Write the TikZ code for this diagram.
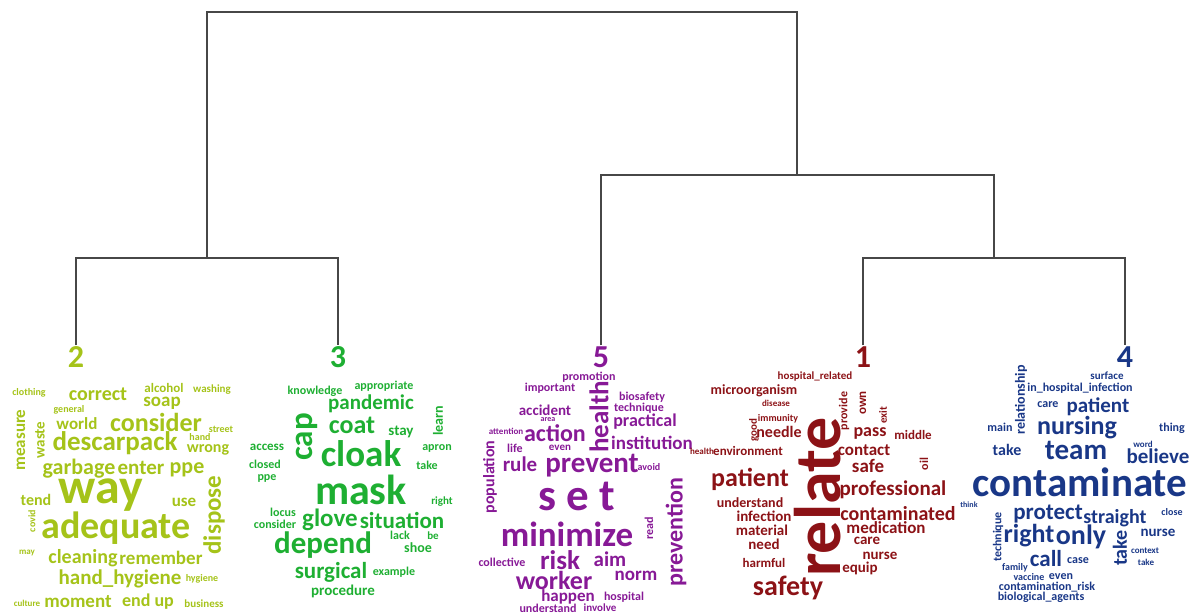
\documentclass[tikz,border=0pt]{standalone}
\usepackage{fontspec}
\setmainfont{Carlito}
\usepackage{tikz}
\definecolor{grpone}{RGB}{140,18,22}
\definecolor{grptwo}{RGB}{165,195,25}
\definecolor{grpthree}{RGB}{30,175,50}
\definecolor{grpfour}{RGB}{25,55,135}
\definecolor{grpfive}{RGB}{135,25,150}
\tikzstyle{branch}=[draw=black!72, line width=2pt]
\tikzstyle{cnum}=[inner sep=1pt, font=\fontsize{32}{32}\selectfont\bfseries]
\tikzstyle{w1}=[text=grpone, inner sep=0pt]
\tikzstyle{w2}=[text=grptwo, inner sep=0pt]
\tikzstyle{w3}=[text=grpthree, inner sep=0pt]
\tikzstyle{w4}=[text=grpfour, inner sep=0pt]
\tikzstyle{w5}=[text=grpfive, inner sep=0pt]
\tikzset{sz/.style={font=\fontsize{#1}{#1}\selectfont\bfseries}}
\begin{document}
\begin{tikzpicture}[x=1pt, y=-1pt]
      \useasboundingbox (0,0) rectangle (1192,615);
      % cluster numbers
      \node[cnum,text=grptwo] at (76,357) (c2) {2};
      \node[cnum,text=grpthree] at (338,357) (c3) {3};
      \node[cnum,text=grpfive] at (601,357) (c5) {5};
      \node[cnum,text=grpone] at (863,357) (c1) {1};
      \node[cnum,text=grpfour] at (1125,357) (c4) {4};
      % merge points
      \coordinate (m23) at (207,258);
      \coordinate (m14) at (994,258);
      \coordinate (m514) at (797,175);
      \coordinate (root) at (502,12);
      \draw[branch] (c2.north) |- (m23) -| (c3.north);
      \draw[branch] (c1.north) |- (m14) -| (c4.north);
      \draw[branch] (c5.north) |- (m514) -| (m14);
      \draw[branch] (m23) |- (root) -| (m514);
      % cluster 2
      \node[w2,sz=10] at (29,393) (clothing2) {clothing};
      \node[w2,sz=20] at (98,394) (correct2) {correct};
      \node[w2,sz=13] at (164,388) (alcohol2) {alcohol};
      \node[w2,sz=11] at (212,390) (washing2) {washing};
      \node[w2,sz=19] at (162,403) (soap2) {soap};
      \node[w2,sz=10] at (69,410) (general2) {general};
      \node[w2,sz=17] at (77,424) (world2) {world};
      \node[w2,sz=26] at (156,422) (consider2) {consider};
      \node[w2,sz=10] at (221,429) (street2) {street};
      \node[w2,sz=17,rotate=90] at (21,440) (measure2) {measure};
      \node[w2,sz=15,rotate=90] at (40,440) (waste2) {waste};
      \node[w2,sz=27] at (115,443) (descarpack2) {descarpack};
      \node[w2,sz=10] at (200,437) (hand2) {hand};
      \node[w2,sz=16] at (208,450) (wrong2) {wrong};
      \node[w2,sz=22] at (79,469) (garbage2) {garbage};
      \node[w2,sz=21] at (141,468) (enter2) {enter};
      \node[w2,sz=22] at (187,470) (ppe2) {ppe};
      \node[w2,sz=16] at (36,500) (tend2) {tend};
      \node[w2,sz=50] at (101,495) (way2) {way};
      \node[w2,sz=17] at (184,502) (use2) {use};
      \node[w2,sz=25,rotate=90] at (214,515) (dispose2) {dispose};
      \node[w2,sz=10,rotate=90] at (32,521) (covid2) {covid};
      \node[w2,sz=38] at (116,528) (adequate2) {adequate};
      \node[w2,sz=9] at (27,553) (may2) {may};
      \node[w2,sz=20] at (83,558) (cleaning2) {cleaning};
      \node[w2,sz=19] at (161,558) (remember2) {remember};
      \node[w2,sz=21] at (120,579) (handhyg2) {hand\_hygiene};
      \node[w2,sz=10] at (202,579) (hygiene2) {hygiene};
      \node[w2,sz=9] at (27,603) (culture2) {culture};
      \node[w2,sz=19] at (78,602) (moment2) {moment};
      \node[w2,sz=18] at (148,602) (endup2) {end up};
      \node[w2,sz=11] at (204,604) (business2) {business};
      % cluster 3
      \node[w3,sz=12] at (315,391) (knowledge3) {knowledge};
      \node[w3,sz=12] at (384,386) (appropriate3) {appropriate};
      \node[w3,sz=21] at (371,404) (pandemic3) {pandemic};
      \node[w3,sz=14,rotate=90] at (438,421) (learn3) {learn};
      \node[w3,sz=33,rotate=90] at (307,437) (cap3) {cap};
      \node[w3,sz=26] at (352,425) (coat3) {coat};
      \node[w3,sz=15] at (401,432) (stay3) {stay};
      \node[w3,sz=13] at (267,447) (access3) {access};
      \node[w3,sz=37] at (361,454) (cloak3) {cloak};
      \node[w3,sz=12] at (437,448) (apron3) {apron};
      \node[w3,sz=12] at (265,464) (closed3) {closed};
      \node[w3,sz=12] at (427,465) (take3) {take};
      \node[w3,sz=12] at (267,478) (ppe3) {ppe};
      \node[w3,sz=42] at (361,490) (mask3) {mask};
      \node[w3,sz=11] at (442,502) (right3) {right};
      \node[w3,sz=12] at (283,512) (locus3) {locus};
      \node[w3,sz=12] at (275,524) (consider3) {consider};
      \node[w3,sz=25] at (330,520) (glove3) {glove};
      \node[w3,sz=23] at (402,520) (situation3) {situation};
      \node[w3,sz=12] at (400,535) (lack3) {lack};
      \node[w3,sz=11] at (433,536) (be3) {be};
      \node[w3,sz=31] at (323,545) (depend3) {depend};
      \node[w3,sz=14] at (418,548) (shoe3) {shoe};
      \node[w3,sz=23] at (331,572) (surgical3) {surgical};
      \node[w3,sz=12] at (394,572) (example3) {example};
      \node[w3,sz=15] at (343,591) (procedure3) {procedure};
      % cluster 5
      \node[w5,sz=12] at (589,377) (promotion5) {promotion};
      \node[w5,sz=12] at (550,388) (important5) {important};
      \node[w5,sz=27,rotate=90] at (599,417) (health5) {health};
      \node[w5,sz=12] at (642,397) (biosafety5) {biosafety};
      \node[w5,sz=12] at (639,408) (technique5) {technique};
      \node[w5,sz=15] at (545,410) (accident5) {accident};
      \node[w5,sz=8] at (548,420) (area5) {area};
      \node[w5,sz=18] at (645,422) (practical5) {practical};
      \node[w5,sz=9] at (506,431) (attention5) {attention};
      \node[w5,sz=24] at (555,433) (action5) {action};
      \node[w5,sz=19] at (652,443) (institution5) {institution};
      \node[w5,sz=16,rotate=90] at (490,477) (population5) {population};
      \node[w5,sz=12] at (515,448) (life5) {life};
      \node[w5,sz=11] at (560,448) (even5) {even};
      \node[w5,sz=21] at (520,464) (rule5) {rule};
      \node[w5,sz=29] at (592,466) (prevent5) {prevent};
      \node[w5,sz=10] at (649,467) (avoid5) {avoid};
      \node[w5,sz=45] at (577,496) (set5) {s e t};
      \node[w5,sz=24,rotate=90] at (676,532) (prevention5) {prevention};
      \node[w5,sz=35] at (567,534) (minimize5) {minimize};
      \node[w5,sz=12,rotate=90] at (649,528) (read5) {read};
      \node[w5,sz=12] at (502,562) (collective5) {collective};
      \node[w5,sz=27] at (560,560) (risk5) {risk};
      \node[w5,sz=21] at (610,559) (aim5) {aim};
      \node[w5,sz=19] at (636,576) (norm5) {norm};
      \node[w5,sz=26] at (554,580) (worker5) {worker};
      \node[w5,sz=17] at (568,597) (happen5) {happen};
      \node[w5,sz=12] at (624,597) (hospital5) {hospital};
      \node[w5,sz=12] at (548,608) (understand5) {understand};
      \node[w5,sz=11] at (600,608) (involve5) {involve};
      % cluster 1
      \node[w1,sz=11] at (815,377) (hosprel1) {hospital\_related};
      \node[w1,sz=14] at (754,391) (microorganism1) {microorganism};
      \node[w1,sz=9] at (776,403) (disease1) {disease};
      \node[w1,sz=12,rotate=90] at (844,411) (provide1) {provide};
      \node[w1,sz=13,rotate=90] at (863,403) (own1) {own};
      \node[w1,sz=11,rotate=90] at (883,415) (exit1) {exit};
      \node[w1,sz=11,rotate=90] at (754,430) (good1) {good};
      \node[w1,sz=10] at (778,419) (immunity1) {immunity};
      \node[w1,sz=16] at (779,432) (needle1) {needle};
      \node[w1,sz=66,rotate=90] at (818,497) (relate1) {relate};
      \node[w1,sz=18] at (870,433) (pass1) {pass};
      \node[w1,sz=13] at (913,435) (middle1) {middle};
      \node[w1,sz=9] at (702,451) (health1) {health};
      \node[w1,sz=13] at (748,451) (environment1) {environment};
      \node[w1,sz=17] at (864,450) (contact1) {contact};
      \node[w1,sz=19] at (868,466) (safe1) {safe};
      \node[w1,sz=12,rotate=90] at (924,464) (oil1) {oil};
      \node[w1,sz=26] at (750,479) (patient1) {patient};
      \node[w1,sz=21] at (893,490) (professional1) {professional};
      \node[w1,sz=14] at (750,503) (understand1) {understand};
      \node[w1,sz=15] at (764,516) (infection1) {infection};
      \node[w1,sz=20] at (898,514) (contaminated1) {contaminated};
      \node[w1,sz=17] at (886,528) (medication1) {medication};
      \node[w1,sz=15] at (762,530) (material1) {material};
      \node[w1,sz=15] at (867,541) (care1) {care};
      \node[w1,sz=15] at (764,544) (need1) {need};
      \node[w1,sz=15] at (880,556) (nurse1) {nurse};
      \node[w1,sz=13] at (764,563) (harmful1) {harmful};
      \node[w1,sz=15] at (860,568) (equip1) {equip};
      \node[w1,sz=28] at (788,588) (safety1) {safety};
      % cluster 4
      \node[w4,sz=14,rotate=90] at (1021,400) (relationship4) {relationship};
      \node[w4,sz=11] at (1107,376) (surface4) {surface};
      \node[w4,sz=12] at (1080,388) (inhosp4) {in\_hospital\_infection};
      \node[w4,sz=12] at (1048,405) (care4) {care};
      \node[w4,sz=21] at (1098,407) (patient4) {patient};
      \node[w4,sz=12] at (1000,427) (main4) {main};
      \node[w4,sz=26] at (1077,428) (nursing4) {nursing};
      \node[w4,sz=12] at (1172,428) (thing4) {thing};
      \node[w4,sz=16] at (1007,450) (take4) {take};
      \node[w4,sz=29] at (1076,450) (team4) {team};
      \node[w4,sz=9] at (1143,444) (word4) {word};
      \node[w4,sz=21] at (1158,456) (believe4) {believe};
      \node[w4,sz=41] at (1080,482) (contaminate4) {contaminate};
      \node[w4,sz=8] at (969,505) (think4) {think};
      \node[w4,sz=10] at (1172,512) (close4) {close};
      \node[w4,sz=23] at (1048,514) (protect4) {protect};
      \node[w4,sz=20] at (1115,518) (straight4) {straight};
      \node[w4,sz=12,rotate=90] at (998,537) (technique4) {technique};
      \node[w4,sz=26] at (1029,536) (right4) {right};
      \node[w4,sz=28] at (1081,537) (only4) {only};
      \node[w4,sz=20,rotate=90] at (1120,548) (takev4) {take};
      \node[w4,sz=15] at (1158,533) (nurse4) {nurse};
      \node[w4,sz=23] at (1046,559) (call4) {call};
      \node[w4,sz=12] at (1078,561) (case4) {case};
      \node[w4,sz=9] at (1145,551) (context4) {context};
      \node[w4,sz=9] at (1146,562) (takes4) {take};
      \node[w4,sz=10] at (1015,568) (family4) {family};
      \node[w4,sz=10] at (1029,577) (vaccine4) {vaccine};
      \node[w4,sz=12] at (1061,577) (even4) {even};
      \node[w4,sz=12] at (1047,587) (contrisk4) {contamination\_risk};
      \node[w4,sz=12] at (1041,597) (bioagents4) {biological\_agents};
    \end{tikzpicture}
\end{document}
